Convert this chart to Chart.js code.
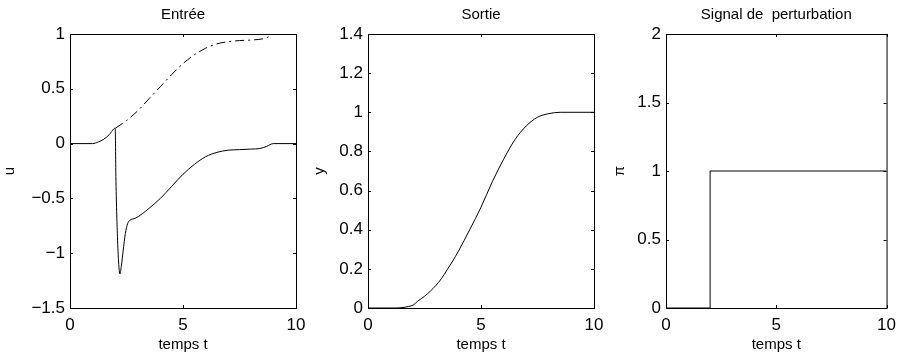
<!DOCTYPE html>
<html>
<head>
<meta charset="utf-8">
<title>Entrée / Sortie / Signal de perturbation</title>
<script src="https://cdn.jsdelivr.net/npm/chart.js@4/dist/chart.umd.min.js"></script>
<style>
  html, body { margin: 0; padding: 0; background: #fff; }
  #fig { position: relative; width: 903px; height: 361px; overflow: hidden; background: #fff; }
  #fig canvas { position: absolute; top: 0; }
</style>
</head>
<body>
<div id="fig">
  <canvas id="entree" width="320" height="361" style="left:0"></canvas>
  <canvas id="sortie" width="320" height="361" style="left:300px"></canvas>
  <canvas id="perturb" width="303" height="361" style="left:600px"></canvas>
</div>
<script>
// Entrée : commande u (trait plein) et commande nominale (tiret-point)
var uT = [0, 1, 1.25, 1.5, 1.75, 2.0, 2.03, 2.1, 2.15, 2.21, 2.27, 2.35, 2.45, 2.55, 2.65, 2.9, 3.2, 3.5, 4, 4.5, 5, 5.5, 6, 6.5, 7, 7.5, 8, 8.4, 8.7, 9, 10];
var uVal = [0, 0, 0.015, 0.04, 0.085, 0.14, -0.3, -0.85, -1.08, -1.19, -1.12, -0.98, -0.82, -0.73, -0.70, -0.68, -0.64, -0.59, -0.50, -0.39, -0.28, -0.19, -0.12, -0.08, -0.06, -0.055, -0.05, -0.045, -0.025, 0, 0];
var uNomT = [2.0, 2.5, 3, 3.5, 4, 4.5, 5, 5.5, 6, 6.5, 7, 7.5, 8, 8.5, 8.75, 9, 10];
var uNomVal = [0.14, 0.21, 0.30, 0.41, 0.52, 0.63, 0.73, 0.81, 0.87, 0.91, 0.93, 0.94, 0.945, 0.955, 0.97, 1.0, 1.0];

// Sortie y
var yT = [0, 1.2, 1.5, 1.8, 2.0, 2.2, 2.5, 2.75, 3, 3.25, 3.5, 3.75, 4, 4.5, 5, 5.5, 6, 6.5, 7, 7.5, 8, 8.5, 10];
var yVal = [0, 0, 0.002, 0.008, 0.015, 0.035, 0.06, 0.085, 0.115, 0.15, 0.195, 0.24, 0.29, 0.40, 0.515, 0.645, 0.76, 0.86, 0.93, 0.975, 0.993, 1.0, 1.0];

// Signal de perturbation pi (échelon à t = 2)
var piT = [0, 2, 2, 10];
var piVal = [0, 0, 1, 1];

// graduations
var tTicks = [0, 5, 10];
var uTicks = [-1.5, -1, -0.5, 0, 0.5, 1];
var yTicks = [0, 0.2, 0.4, 0.6, 0.8, 1, 1.2, 1.4];
var piTicks = [0, 0.5, 1, 1.5, 2];

(function() {
    'use strict';

    var FONT = "'Liberation Sans', Arial, Helvetica, sans-serif";
    Chart.defaults.color = '#000';
    Chart.defaults.font.family = FONT;

    function pts(xs, ys) {
        return xs.map(function(x, i) { return { x: x, y: ys[i] }; });
    }

    function fmt(v) {
        return String(+(+v).toFixed(2)).replace('-', '\u2212');
    }

    // cadre + graduations vers l'intérieur, façon MATLAB
    var boxTicks = {
        id: 'boxTicks',
        afterDraw: function(chart) {
            var ctx = chart.ctx, a = chart.chartArea, len = 3;
            var xs = chart.scales.x, ys = chart.scales.y;
            ctx.save();
            ctx.strokeStyle = '#000';
            ctx.lineWidth = 1;
            ctx.beginPath();
            xs.ticks.forEach(function(t) {
                var px = Math.round(xs.getPixelForValue(t.value)) + 0.5;
                ctx.moveTo(px, a.bottom); ctx.lineTo(px, a.bottom - len);
                ctx.moveTo(px, a.top); ctx.lineTo(px, a.top + len);
            });
            ys.ticks.forEach(function(t) {
                var py = Math.round(ys.getPixelForValue(t.value)) + 0.5;
                ctx.moveTo(a.left, py); ctx.lineTo(a.left + len, py);
                ctx.moveTo(a.right, py); ctx.lineTo(a.right - len, py);
            });
            ctx.stroke();
            ctx.strokeRect(a.left + 0.5, a.top + 0.5, a.right - a.left, a.bottom - a.top);
            ctx.restore();
        }
    };

    function subplot(id, cfg) {
        var ctx = document.getElementById(id).getContext('2d');
        return new Chart(ctx, {
            type: 'line',
            data: { datasets: cfg.datasets },
            options: {
                responsive: false,
                animation: false,
                events: [],
                layout: { padding: { left: 0, right: cfg.padRight, top: 0, bottom: 0 } },
                elements: { point: { radius: 0 } },
                plugins: {
                    legend: { display: false },
                    tooltip: { enabled: false },
                    title: {
                        display: true,
                        fullSize: false,
                        text: cfg.title,
                        color: '#000',
                        font: { size: 15, weight: 'normal' },
                        padding: { top: 6, bottom: 10 }
                    }
                },
                scales: {
                    x: {
                        type: 'linear',
                        min: 0, max: 10,
                        grid: { display: false, drawTicks: false },
                        border: { display: false },
                        afterBuildTicks: function(s) { s.ticks = tTicks.map(function(v) { return { value: v }; }); },
                        afterFit: function(s) { s.height = 53; },
                        ticks: { font: { size: 17 }, padding: 7, maxRotation: 0, callback: fmt },
                        title: { display: true, text: 'temps t', font: { size: 15 }, padding: { top: 0, bottom: 7 } }
                    },
                    y: {
                        type: 'linear',
                        min: cfg.yTicks[0], max: cfg.yTicks[cfg.yTicks.length - 1],
                        grid: { display: false, drawTicks: false },
                        border: { display: false },
                        afterBuildTicks: function(s) { s.ticks = cfg.yTicks.map(function(v) { return { value: v }; }); },
                        afterFit: function(s) { s.width = cfg.left; },
                        ticks: { font: { size: 17 }, padding: 5, callback: fmt },
                        title: { display: true, text: cfg.yLabel, font: { size: 15 }, padding: { top: cfg.yTitlePad, bottom: 0 } }
                    }
                }
            },
            plugins: [boxTicks]
        });
    }

    function line(data, dash, smooth) {
        return {
            data: data,
            borderColor: '#000',
            borderWidth: 1,
            borderDash: dash || [],
            fill: false,
            tension: 0,
            cubicInterpolationMode: smooth ? 'monotone' : 'default'
        };
    }

    subplot('entree', {
        title: 'Entrée', yLabel: 'u', yTicks: uTicks,
        left: 70, padRight: 24, yTitlePad: 1,
        datasets: [line(pts(uNomT, uNomVal), [9, 4, 2, 4], true), line(pts(uT, uVal), null, true)]
    });

    subplot('sortie', {
        title: 'Sortie', yLabel: 'y', yTicks: yTicks,
        left: 68, padRight: 26, yTitlePad: 11,
        datasets: [line(pts(yT, yVal), null, true)]
    });

    subplot('perturb', {
        title: 'Signal de  perturbation', yLabel: '\u03c0', yTicks: piTicks,
        left: 66, padRight: 11, yTitlePad: 11,
        datasets: [line(pts(piT, piVal), null, false)]
    });
})();
</script>
</body>
</html>
